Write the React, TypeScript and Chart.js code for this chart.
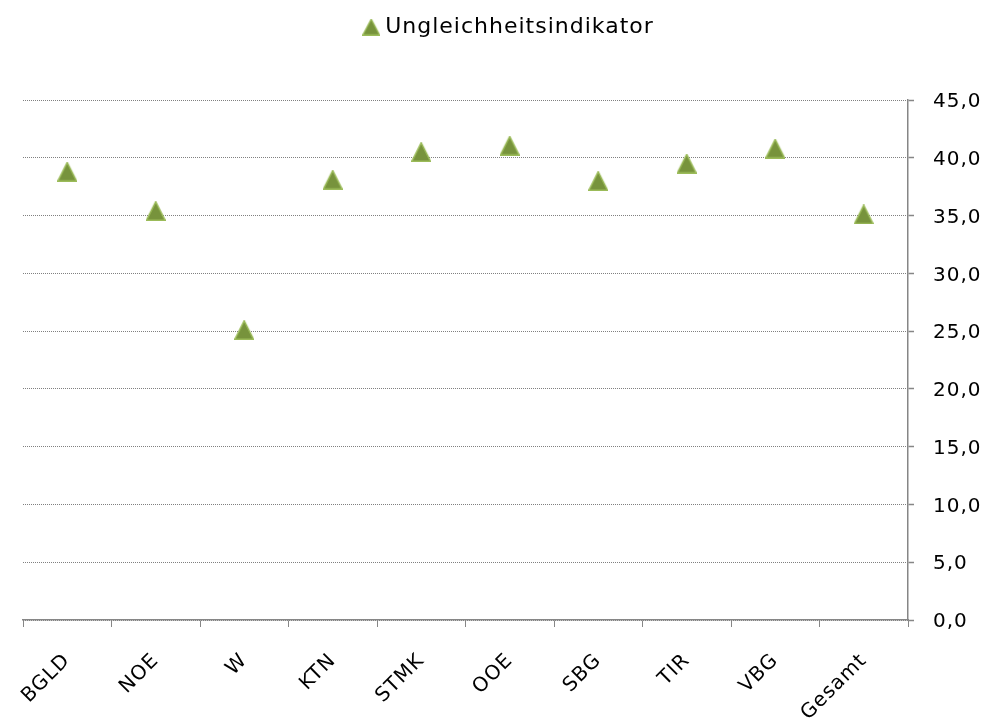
import { useEffect, useRef } from 'react';
import { Chart, registerables } from 'chart.js';

Chart.register(...registerables);

const categories = ['BGLD', 'NOE', 'W', 'KTN', 'STMK', 'OOE', 'SBG', 'TIR', 'VBG', 'Gesamt'];
const values = [38.8, 35.4, 25.1, 38.1, 40.5, 41.05, 38.0, 39.5, 40.8, 35.1];
const seriesLabel = 'Ungleichheitsindikator';
const yMin = 0;
const yMax = 45;
const yStep = 5;

const FONT_FAMILY = '"Century Gothic", "DejaVu Sans", sans-serif';
const FILL = '#77933C';
const EDGE = '#9BBB59';

function makeTriangle(w: number, h: number, lw: number): HTMLCanvasElement {
  const c = document.createElement('canvas');
  c.width = w;
  c.height = h;
  const g = c.getContext('2d')!;
  g.beginPath();
  g.moveTo(w / 2, lw / 2);
  g.lineTo(w - lw / 2, h - lw / 2);
  g.lineTo(lw / 2, h - lw / 2);
  g.closePath();
  g.fillStyle = FILL;
  g.fill();
  g.lineWidth = lw;
  g.strokeStyle = EDGE;
  g.lineJoin = 'miter';
  g.stroke();
  return c;
}

export default function App() {
  const ref = useRef<HTMLCanvasElement | null>(null);

  useEffect(() => {
    if (!ref.current) return;
    const tri = makeTriangle(20, 20, 1.5);
    const legendTri = makeTriangle(18, 17, 1.2);

    const letterSpacingPlugin = {
      id: 'letterSpacing',
      beforeUpdate(chart: any) {
        chart.ctx.letterSpacing = '1px';
      },
      beforeDraw(chart: any) {
        chart.ctx.letterSpacing = '1px';
      },
    };
    const legendFix = {
      id: 'legendFix',
      beforeLayout(chart: any) {
        const lg = chart.legend;
        if (lg && !lg.__patched) {
          const f = lg.fit;
          lg.fit = function () {
            f.call(this);
            this.height = 100;
          };
          lg.__patched = true;
        }
      },
      afterLayout(chart: any) {
        const lg = chart.legend;
        if (lg) {
          lg.left += 6;
          lg.right += 6;
        }
      },
    };

    const tickFont = { family: FONT_FAMILY, size: 20 };
    const legendFont = { family: FONT_FAMILY, size: 22 };

    const chart = new Chart(ref.current, {
      type: 'line',
      data: {
        labels: categories,
        datasets: [
          {
            label: seriesLabel,
            data: values,
            showLine: false,
            pointStyle: tri as any,
            pointRadius: 10,
            pointHoverRadius: 10,
            backgroundColor: FILL,
            borderColor: EDGE,
          },
        ],
      },
      options: {
        responsive: false,
        animation: false,
        events: [],
        layout: { padding: { left: 23, right: 0, top: 0, bottom: 0 } },
        plugins: {
          legend: {
            position: 'top',
            labels: {
              usePointStyle: true,
              pointStyleWidth: 6,
              padding: 16,
              font: legendFont,
              color: '#000',
              generateLabels: (c: any) => {
                const items = (Chart.defaults.plugins.legend.labels as any).generateLabels(c);
                items.forEach((i: any) => {
                  i.pointStyle = legendTri;
                });
                return items;
              },
            },
          },
          tooltip: { enabled: false },
        },
        scales: {
          x: {
            type: 'category',
            offset: true,
            grid: {
              display: true,
              drawOnChartArea: false,
              drawTicks: true,
              tickLength: 7,
              color: '#868686',
              offset: true,
              lineWidth: 1,
            },
            border: { display: true, color: '#868686', width: 1.5 },
            ticks: {
              font: tickFont,
              color: '#000',
              maxRotation: 45,
              minRotation: 45,
              padding: 22,
              autoSkip: false,
            },
            afterFit: (s: any) => {
              s.height = 105;
            },
          },
          y: {
            position: 'right',
            min: yMin,
            max: yMax,
            ticks: {
              stepSize: yStep,
              font: tickFont,
              color: '#000',
              padding: 19,
              labelOffset: 2,
              callback: (v: any) => Number(v).toFixed(1).replace('.', ','),
            },
            grid: {
              color: '#808080',
              lineWidth: 1,
              drawTicks: true,
              tickLength: 6,
              tickColor: '#868686',
              tickWidth: 1.5,
            },
            border: { display: true, dash: [1, 1], color: '#868686', width: 1.5 },
            afterFit: (s: any) => {
              s.width = 79;
            },
          },
        },
      } as any,
      plugins: [letterSpacingPlugin, legendFix],
    });

    return () => chart.destroy();
  }, []);

  return (
    <div style={{ position: 'fixed', left: 0, top: 0, width: 987, height: 725, background: '#fff' }}>
      <canvas ref={ref} width={987} height={725} style={{ display: 'block' }} />
    </div>
  );
}
